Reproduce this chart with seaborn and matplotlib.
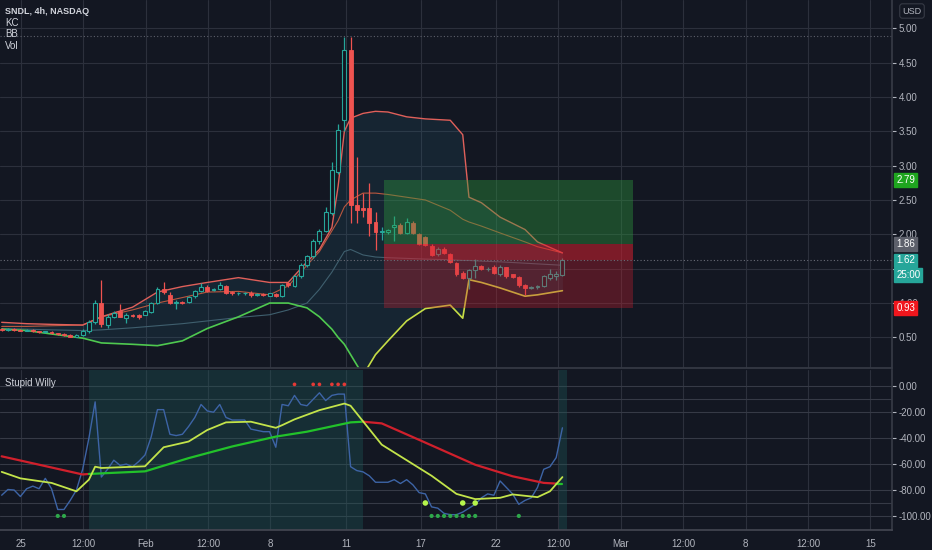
import matplotlib
matplotlib.use("Agg")
import matplotlib.pyplot as plt
import seaborn as sns
import numpy as np

# ---------------- data ----------------
bar_open = [0.62, 0.61, 0.62, 0.61, 0.60, 0.61, 0.59, 0.58, 0.58, 0.56,
            0.55, 0.53, 0.51, 0.53, 0.59, 0.72, 1.00, 0.68, 0.80, 0.88,
            0.78, 0.83, 0.82, 0.83, 0.87, 1.00, 1.20, 1.12, 1.00, 1.02,
            1.02, 1.10, 1.18, 1.24, 1.19, 1.20, 1.25, 1.16, 1.14, 1.14,
            1.14, 1.12, 1.13, 1.11, 1.13, 1.10, 1.29, 1.25, 1.39, 1.55,
            1.68, 1.90, 2.05, 2.31, 2.91, 3.66, 4.68, 2.43, 2.39, 2.39,
            2.18, 2.03, 2.04, 2.10, 2.14, 2.02, 2.17, 2.00, 1.96, 1.83,
            1.71, 1.79, 1.71, 1.58, 1.44, 1.37, 1.48, 1.54, 1.49, 1.52,
            1.42, 1.52, 1.42, 1.38, 1.26, 1.22, 1.23, 1.25, 1.36, 1.40,
            1.41]
bar_high = [0.63, 0.63, 0.63, 0.62, 0.62, 0.62, 0.60, 0.60, 0.59, 0.57,
            0.56, 0.55, 0.55, 0.62, 0.75, 1.05, 1.34, 0.84, 0.88, 0.99,
            0.86, 0.84, 0.84, 0.90, 1.02, 1.24, 1.31, 1.16, 1.04, 1.03,
            1.10, 1.19, 1.29, 1.26, 1.22, 1.30, 1.27, 1.17, 1.16, 1.16,
            1.17, 1.14, 1.14, 1.15, 1.14, 1.28, 1.31, 1.41, 1.58, 1.70,
            1.93, 2.08, 2.40, 3.05, 3.60, 4.87, 4.87, 3.12, 2.60, 2.75,
            2.33, 2.10, 2.08, 2.27, 2.16, 2.24, 2.19, 2.02, 1.98, 1.86,
            1.81, 1.81, 1.73, 1.60, 1.46, 1.50, 1.64, 1.56, 1.52, 1.55,
            1.56, 1.53, 1.43, 1.39, 1.28, 1.25, 1.26, 1.41, 1.50, 1.47,
            1.66]
bar_low = [0.60, 0.60, 0.60, 0.59, 0.59, 0.58, 0.57, 0.56, 0.55, 0.53,
           0.52, 0.50, 0.50, 0.52, 0.57, 0.70, 0.65, 0.64, 0.78, 0.79,
           0.71, 0.79, 0.77, 0.82, 0.86, 0.98, 1.13, 0.98, 0.91, 0.98,
           1.00, 1.08, 1.16, 1.16, 1.17, 1.19, 1.13, 1.12, 1.12, 1.12,
           1.09, 1.10, 1.10, 1.10, 1.09, 1.09, 1.24, 1.24, 1.37, 1.53,
           1.66, 1.86, 2.03, 2.28, 2.88, 3.50, 2.17, 2.17, 2.25, 1.97,
           1.77, 1.92, 2.00, 1.90, 2.00, 2.00, 2.00, 1.84, 1.83, 1.68,
           1.69, 1.71, 1.58, 1.40, 1.35, 1.20, 1.36, 1.48, 1.46, 1.42,
           1.40, 1.37, 1.36, 1.24, 1.12, 1.20, 1.21, 1.24, 1.34, 1.33,
           1.40]
bar_close = [0.61, 0.62, 0.61, 0.60, 0.61, 0.59, 0.58, 0.59, 0.56, 0.55,
             0.53, 0.51, 0.54, 0.60, 0.72, 1.00, 0.70, 0.80, 0.86, 0.80,
             0.83, 0.81, 0.79, 0.88, 1.00, 1.20, 1.16, 1.00, 1.02, 1.00,
             1.09, 1.18, 1.24, 1.18, 1.20, 1.26, 1.15, 1.14, 1.15, 1.15,
             1.12, 1.13, 1.12, 1.14, 1.10, 1.26, 1.26, 1.39, 1.55, 1.68,
             1.90, 2.05, 2.33, 2.94, 3.52, 4.68, 2.43, 2.36, 2.36, 2.17,
             2.03, 2.05, 2.06, 2.14, 2.02, 2.18, 2.02, 1.86, 1.85, 1.70,
             1.79, 1.73, 1.60, 1.42, 1.37, 1.48, 1.54, 1.50, 1.50, 1.44,
             1.52, 1.39, 1.38, 1.26, 1.22, 1.23, 1.24, 1.39, 1.42, 1.42,
             1.62]

band_x   = [0, 4, 8, 13, 16, 21, 25, 29, 33, 38, 43, 46, 49, 51, 53, 54, 55, 56,
            58, 60, 62, 65, 68, 72, 74, 75, 77, 80, 84, 86, 90]
kc_upper = [0.72, 0.70, 0.69, 0.68, 0.80, 0.94, 1.16, 1.24, 1.30, 1.37, 1.30, 1.30,
            1.60, 1.78, 2.10, 2.70, 3.50, 3.69, 3.76, 3.79, 3.78, 3.71, 3.68, 3.66,
            3.45, 2.54, 2.46, 2.25, 2.07, 1.89, 1.73]
kc_basis = [0.66, 0.66, 0.67, 0.68, 0.80, 0.90, 1.00, 1.08, 1.16, 1.17, 1.12, 1.25,
            1.55, 1.75, 2.05, 2.20, 2.40, 2.50, 2.60, 2.60, 2.58, 2.54, 2.50, 2.35,
            2.22, 2.18, 2.12, 2.02, 1.89, 1.82, 1.73]
bb_basis = [0.63, 0.62, 0.61, 0.60, 0.61, 0.64, 0.67, 0.70, 0.74, 0.79, 0.83, 0.90,
            1.00, 1.20, 1.45, 1.60, 1.75, 1.78, 1.70, 1.67, 1.66, 1.65, 1.64, 1.63,
            1.62, 1.62, 1.61, 1.60, 1.58, 1.57, 1.55]
bb_lower = [0.62, 0.60, 0.55, 0.49, 0.42, 0.40, 0.38, 0.45, 0.63, 0.80, 1.00, 1.00,
            0.93, 0.80, 0.62, 0.50, 0.40, 0.25, -0.05, 0.25, 0.45, 0.74, 0.92, 0.97,
            0.78, 1.34, 1.30, 1.22, 1.10, 1.12, 1.18]

pos_start, pos_end = 61.4, 101.3
pos_entry, pos_target, pos_stop, last_price = 1.86, 2.79, 0.93, 1.62
session_high = 4.89

willy_r = [-84, -79.6, -80, -85, -79, -77, -79, -71, -79, -95,
           -95, -88, -80, -64, -40, -12, -70, -64, -57, -61,
           -60, -62, -58, -53, -39, -18, -18, -37, -38, -37,
           -31, -24, -14, -19, -20, -14, -24, -26, -26, -26,
           -33, -34, -35, -35, -47, -14, -15, -7, -14, -15,
           -10, -5, -11, -7, -6, -6, -62, -65, -66, -69,
           -74, -74, -74, -72, -75, -72, -76, -82, -83, -93,
           -94, -98, -99, -99, -97, -94, -91, -86, -83, -84,
           -73, -78, -83, -91, -88, -86, -78, -64, -62, -55,
           -32]
fast_x = [0, 3, 8, 12, 14, 15, 16, 23, 26, 30, 33, 36, 40, 44, 45, 47, 51, 55, 56,
          61, 65, 69, 73, 76, 80, 82, 86, 88, 90]
fast_y = [-66, -71, -74.5, -81, -72, -62, -63, -61.7, -47, -42.6, -33.7, -27.8, -27.3,
          -32, -30, -25.5, -18.4, -13.3, -15, -45, -57, -69, -83, -87, -86, -83.4,
          -85.5, -81, -70]
slow_x = [0, 13, 14, 23, 30, 37, 44, 49, 56, 58, 61, 67, 76, 82, 87, 89, 90]
slow_y = [-54, -68, -67.6, -65.6, -55.4, -46.4, -38.8, -35, -27.8, -27.3, -28.6,
          -41.3, -60.5, -69.4, -74.5, -75, -75]
slow_regimes = [(0, 14, "down"), (14, 58, "up"), (58, 89, "down"), (89, 90, "up")]
top_dots_x = [47, 50, 51, 53, 54, 55]
bottom_dots_x = [9, 10, 69, 70, 71, 72, 73, 74, 75, 76, 83]
signal_dots_x = [68, 74, 76]

tick_pos = [3.1, 13.1, 23.1, 33.1, 43.1, 55.3, 67.3, 79.3, 89.3, 99.4, 109.4, 119.4, 129.4, 139.4]
tick_lab = ["25", "12:00", "Feb", "12:00", "8", "11", "17", "22", "12:00", "Mar",
            "12:00", "8", "12:00", "15"]
price_ticks = [0.5, 1.0, 1.5, 2.0, 2.5, 3.0, 3.5, 4.0, 4.5, 5.0]
hidden_price_labels = [1.5]   # covered by the last-price boxes in the reference
osc_ticks = [0, -20, -40, -60, -80, -100]
osc_lines = [0, -10, -20, -40, -60, -80, -90, -100]

# ---------------- style ----------------
BG = "#131722"
GRID = "#2c303c"
TXT = "#b2b5be"
UP = "#26a69a"
DN = "#ef5350"
sns.set_theme(style="dark")
plt.rcParams["font.family"] = ["Liberation Sans", "DejaVu Sans"]

fig = plt.figure(figsize=(9.32, 5.5), dpi=100, facecolor=BG)
ax = fig.add_axes([0, 0.3309, 892 / 932, 0.6691], facecolor=BG)
ax2 = fig.add_axes([0, 0.0355, 892 / 932, 0.2918], facecolor=BG, sharex=ax)

xlim = (-0.27, 142.9)
ax.set_xlim(*xlim)
ax.set_ylim(0.055, 5.41)
ax2.set_ylim(-111.2, 12.6)

for a in (ax, ax2):
    for s in a.spines.values():
        s.set_visible(False)
    a.grid(False)
    for t in tick_pos:
        a.axvline(t, color=GRID, lw=0.8, zorder=0)

for p in price_ticks:
    ax.axhline(p, color=GRID, lw=0.8, zorder=0)
for p in osc_lines:
    ax2.axhline(p, color="#363a46", lw=0.8, zorder=0)

# ---- top panel ----
bx = np.array(band_x)
ax.fill_between(bx, kc_upper, bb_lower, color="#2a6f8a", alpha=0.16, lw=0, zorder=1)
sns.lineplot(x=band_x, y=bb_basis, ax=ax, color="#3f5f6e", lw=0.8, estimator=None, zorder=2)
sns.lineplot(x=band_x, y=kc_basis, ax=ax, color="#b9573f", lw=0.8, estimator=None, zorder=2)
sns.lineplot(x=band_x, y=kc_upper, ax=ax, color="#e0605a", lw=1.0, estimator=None, zorder=2)
split = band_x.index(58)
sns.lineplot(x=band_x[:split + 1], y=bb_lower[:split + 1], ax=ax, color="#4fc94f",
             lw=1.2, estimator=None, zorder=2)
sns.lineplot(x=band_x[split:], y=bb_lower[split:], ax=ax, color="#c6dd45",
             lw=1.2, estimator=None, zorder=2)

bars = np.arange(len(bar_open))
o = np.array(bar_open); c = np.array(bar_close)
h = np.array(bar_high); l = np.array(bar_low)
up = c >= o
cols = np.where(up, UP, DN)
ax.vlines(bars, l, h, colors=cols, lw=0.9, zorder=3)
body_lo = np.minimum(o, c)
body_h = np.maximum(np.abs(c - o), 0.012)
ax.bar(bars[up], body_h[up], bottom=body_lo[up], width=0.62, color=BG,
       edgecolor=UP, lw=0.8, zorder=3.5)
ax.bar(bars[~up], body_h[~up], bottom=body_lo[~up], width=0.62, color=DN,
       edgecolor=DN, lw=0.6, zorder=3.5)

# position tool
ax.fill_between([pos_start, pos_end], pos_entry, pos_target, color="#2e9e3e",
                alpha=0.38, lw=0, zorder=5)
ax.fill_between([pos_start, pos_end], pos_stop, pos_entry, color="#d0202f",
                alpha=0.33, lw=0, zorder=5)
ax.fill_between([pos_start, pos_end], last_price, pos_entry, color="#e0202f",
                alpha=0.3, lw=0, zorder=5)

ax.axhline(session_high, color="#5d606b", lw=0.8, ls=(0, (1, 2)), zorder=1)
ax.axhline(last_price, color="#6a6d78", lw=0.8, ls=(0, (1, 2)), zorder=6)

ax.yaxis.tick_right()
ax.set_yticks(price_ticks)
ax.set_yticklabels(["" if p in hidden_price_labels else f"{p:.2f}" for p in price_ticks])
ax.tick_params(axis="y", colors=TXT, labelsize=7, length=3, width=0.8, pad=2,
               labelcolor=TXT)
ax.tick_params(axis="x", length=0, labelbottom=False)
ax.spines["right"].set_visible(True)
ax.spines["right"].set_color("#363a45")
ax.spines["bottom"].set_visible(True)
ax.spines["bottom"].set_color("#363a45")


def price_box(a, y, text, fc, dy=0):
    a.annotate(text, xy=(1.0, y), xycoords=("axes fraction", "data"),
               xytext=(3, dy), textcoords="offset points", ha="left", va="center",
               fontsize=7, color="white", annotation_clip=False, zorder=10,
               bbox=dict(boxstyle="square,pad=0.18", fc=fc, ec=fc))


price_box(ax, pos_target, "2.79", "#1fa51f")
price_box(ax, pos_entry, "1.86", "#5d606b")
price_box(ax, last_price, "1.62", UP)
price_box(ax, last_price, "25:00", UP, dy=-10.5)
price_box(ax, pos_stop, "0.93", "#f0161d")

# ---- oscillator ----
ax2.axvspan(14, 58, color="#1e5a5a", alpha=0.35, lw=0, zorder=0.5)
ax2.axvspan(89.4, 90.7, color="#1e5a5a", alpha=0.35, lw=0, zorder=0.5)
sns.lineplot(x=list(bars), y=willy_r, ax=ax2, color="#3d64a6", lw=1.0, estimator=None, zorder=2)
for a0, b0, kind in slow_regimes:
    idx = [i for i, xv in enumerate(slow_x) if a0 <= xv <= b0]
    sns.lineplot(x=[slow_x[i] for i in idx], y=[slow_y[i] for i in idx], ax=ax2,
                 color="#d0202c" if kind == "down" else "#22c22a", lw=1.6,
                 estimator=None, zorder=3)
sns.lineplot(x=fast_x, y=fast_y, ax=ax2, color="#c3e44a", lw=1.3, estimator=None, zorder=4)
sns.scatterplot(x=top_dots_x, y=[1.5] * len(top_dots_x), ax=ax2, color="#e53935", s=7,
                edgecolor="none", zorder=5)
sns.scatterplot(x=bottom_dots_x, y=[-100] * len(bottom_dots_x), ax=ax2, color="#2ea84a",
                s=9, edgecolor="none", zorder=5)
sns.scatterplot(x=signal_dots_x, y=[-90] * len(signal_dots_x), ax=ax2, color="#b6f54c",
                s=16, edgecolor="none", zorder=5)

ax2.yaxis.tick_right()
ax2.set_yticks(osc_ticks)
ax2.set_yticklabels([f"{v:.2f}" for v in osc_ticks])
ax2.tick_params(axis="y", colors=TXT, labelsize=7, length=3, width=0.8, pad=2)
ax2.set_xticks(tick_pos)
ax2.set_xticklabels(tick_lab)
ax2.tick_params(axis="x", colors=TXT, labelsize=7, length=3, width=0.8, pad=3)
ax2.spines["right"].set_visible(True)
ax2.spines["right"].set_color("#363a45")
ax2.spines["bottom"].set_visible(True)
ax2.spines["bottom"].set_color("#434651")
ax2.set_xlim(*xlim)
ax.set_xlabel(""); ax.set_ylabel(""); ax2.set_xlabel(""); ax2.set_ylabel("")

# ---- texts ----
fig.text(5 / 932, 1 - 11 / 550, "SNDL, 4h, NASDAQ", color="#d1d4dc", fontsize=6.5,
         fontweight="bold", va="center")
for k, t in enumerate(["KC", "BB", "Vol"]):
    fig.text(5 / 932, 1 - (22.5 + 11.8 * k) / 550, t, color="#d1d4dc", fontsize=7, va="center")
fig.text(5 / 932, 1 - 383 / 550, "Stupid Willy", color="#d1d4dc", fontsize=7, va="center")
fig.text(912 / 932, 1 - 11 / 550, "USD", color=TXT, fontsize=6.5, ha="center", va="center",
         bbox=dict(boxstyle="round,pad=0.3", fc=BG, ec="#363a45", lw=0.8))

fig.savefig("out.png", dpi=100, facecolor=BG)
